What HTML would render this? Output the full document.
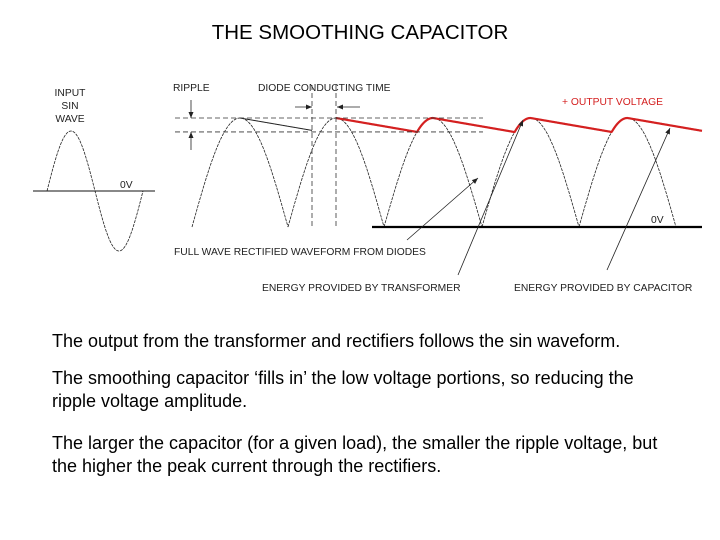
<!DOCTYPE html>
<html><head><meta charset="utf-8"><style>
body{margin:0;background:#fff;}
#wrap{position:relative;width:720px;height:540px;overflow:hidden;font-family:"Liberation Sans",sans-serif;}
#title{position:absolute;left:0;width:720px;top:21px;text-align:center;font-size:20.5px;color:#000;}
.p{position:absolute;left:52px;font-size:18px;line-height:22.5px;color:#000;white-space:nowrap;}
svg text{font-family:"Liberation Sans",sans-serif;font-size:10.3px;fill:#222;}
</style></head><body>
<div id="wrap">
<div id="title">THE SMOOTHING CAPACITOR</div>
<svg id="diag" width="720" height="300" style="position:absolute;left:0;top:0"></svg>
<div class="p" style="top:330px">The output from the transformer and rectifiers follows the sin waveform.</div>
<div class="p" style="top:367px">The smoothing capacitor ‘fills in’ the low voltage portions, so reducing the<br>ripple voltage amplitude.</div>
<div class="p" style="top:432px">The larger the capacitor (for a given load), the smaller the ripple voltage, but<br>the higher the peak current through the rectifiers.</div>
</div>
<script>
// waveform data (zero crossings in px along time axis, and amplitude levels)
const archZeros = [192, 288, 384, 482, 579, 676];
const peakLevel = 1.0;      // normalised peak
const rippleLevel = 0.872;  // normalised ripple trough
const decaySlope = 0.00158; // normalised drop per px during capacitor discharge
const sinStart = 47, sinEnd = 143;

const svg = document.getElementById('diag');
const NS = 'http://www.w3.org/2000/svg';
const base = 227, amp = 109;
const yv = v => base - amp * v;
const sinBase = 191, sinAmp = 60;
function el(tag, attrs, parent){const e=document.createElementNS(NS,tag);for(const k in attrs)e.setAttribute(k,attrs[k]);(parent||svg).appendChild(e);return e;}
function archV(x,i){const z0=archZeros[i],z1=archZeros[i+1];return Math.sin(Math.PI*(x-z0)/(z1-z0));}

// input sine
let d='';
for(let x=sinStart;x<=sinEnd;x++){const v=Math.sin(2*Math.PI*(x-sinStart)/(sinEnd-sinStart));d+=(x===sinStart?'M':'L')+x+','+(sinBase-sinAmp*v).toFixed(1);}
const s=el('path',{d:d,fill:'none',stroke:'#222','stroke-width':0.8,'stroke-dasharray':'3,1'});


const sa=el('line',{x1:33,y1:sinBase,x2:155,y2:sinBase,stroke:'#111','stroke-width':1});



// rectified arches
for(let i=0;i<archZeros.length-1;i++){
  let p='';
  for(let x=archZeros[i];x<=archZeros[i+1];x++){p+=(x===archZeros[i]?'M':'L')+x+','+yv(archV(x,i)).toFixed(1);}
  const a=el('path',{d:p,fill:'none',stroke:'#222','stroke-width':0.8,'stroke-dasharray':'3,1'});
  
  
}
// baseline
const bl=el('line',{x1:372,y1:base,x2:702,y2:base,stroke:'#000','stroke-width':2.2});



// capacitor output from an arch peak
function outputPath(startArch,endX){
  let pts=[];let i=startArch;let x=(archZeros[i]+archZeros[i+1])/2;let v=peakLevel;
  while(x<endX){
    let x0=x,v0=v;
    while(x<endX){x+=0.5;v=v0-decaySlope*(x-x0);
      if(i+1<archZeros.length-1 && x>archZeros[i+1] && archV(x,i+1)>=v)break;
      pts.push([x,v]);}
    if(x>=endX)break;
    i++;
    const pk=(archZeros[i]+archZeros[i+1])/2;
    while(x<pk&&x<endX){pts.push([x,archV(x,i)]);x+=0.5;}
    v=peakLevel;
  }
  return pts;
}
// black discharge line (first arch)
const bp=outputPath(0,312);
const bk=el('polyline',{points:[[240,yv(1)]].concat(bp.map(p=>[p[0],yv(p[1])])).join(' '),fill:'none',stroke:'#222','stroke-width':1});


// red output
const rp=outputPath(1,702);
const rd=el('polyline',{points:[[336,yv(1)]].concat(rp.map(p=>[p[0],yv(p[1])])).join(' '),fill:'none',stroke:'#d42020','stroke-width':2.2});



// dashed guides
[[175,yv(peakLevel),483,yv(peakLevel)],[175,yv(rippleLevel),483,yv(rippleLevel)],[312,85,312,227],[336,85,336,227]].forEach(l=>{
  const g=el('line',{x1:l[0],y1:l[1],x2:l[2],y2:l[3],stroke:'#333','stroke-width':0.8,'stroke-dasharray':'5,3'});
  
  
});
// arrows
function arrow(x1,y1,x2,y2,name){
  const l=el('line',{x1:x1,y1:y1,x2:x2,y2:y2,stroke:'#222','stroke-width':0.8});
  
  
  const ang=Math.atan2(y2-y1,x2-x1),L=6,w=2.5;
  const bx=x2-L*Math.cos(ang),by=y2-L*Math.sin(ang);
  const h=el('polygon',{points:`${x2},${y2} ${bx-w*Math.sin(ang)},${by+w*Math.cos(ang)} ${bx+w*Math.sin(ang)},${by-w*Math.cos(ang)}`,fill:'#222'});
  
  
}
arrow(191,100,191,118,'ripple-arrow-top');
arrow(191,150,191,132,'ripple-arrow-bottom');
arrow(295,107,312,107,'conduct-arrow-left');
arrow(360,107,337,107,'conduct-arrow-right');
arrow(407,240,478,178,'pointer-full-wave');
arrow(458,275,523,120,'pointer-transformer');
arrow(607,270,670,128,'pointer-capacitor');

// labels
const labels=[['INPUT',70,96,'middle','#222'],['SIN',70,109,'middle','#222'],['WAVE',70,122,'middle','#222'],['0V',120,188,'start','#222'],
['RIPPLE',173,91,'start','#222'],['DIODE CONDUCTING TIME',258,91,'start','#222'],['+ OUTPUT VOLTAGE',562,105,'start','#d42020'],
['0V',651,223,'start','#222'],['FULL WAVE RECTIFIED WAVEFORM FROM DIODES',174,255,'start','#222'],
['ENERGY PROVIDED BY TRANSFORMER',262,291,'start','#222'],['ENERGY PROVIDED BY CAPACITOR',514,291,'start','#222']];
labels.forEach(t=>{
  const e=el('text',{x:t[1],y:t[2],'text-anchor':t[3],style:'fill:'+t[4]});
  e.textContent=t[0];
  
  
});
</script>
</body></html>
